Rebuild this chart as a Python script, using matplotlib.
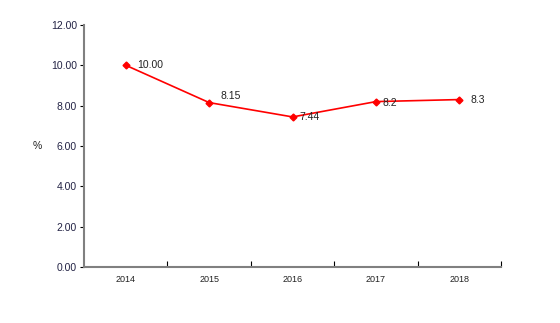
import matplotlib.pyplot as plt
import numpy as np

plt.rcParams["font.family"] = ["Liberation Sans", "DejaVu Sans"]

years = ["2014", "2015", "2016", "2017", "2018"]
values = [10.00, 8.15, 7.44, 8.2, 8.3]
value_labels = ["10.00", "8.15", "7.44", "8.2", "8.3"]
yticks = [0, 2, 4, 6, 8, 10, 12]

# label offsets in points (dx, dy)
offsets = [(8, 0), (8, 5), (5, 0), (5, -1), (8, 0)]

fig = plt.figure(figsize=(5.6, 3.23), dpi=100)
ax = fig.add_axes([0.15, 0.173, 0.745, 0.75])

x = np.arange(len(years))
ax.plot(x, values, color="#ff0000", lw=1.2, marker="D", ms=3.5,
        markerfacecolor="#ff0000", markeredgecolor="#ff0000")

for xi, v, lab, (dx, dy) in zip(x, values, value_labels, offsets):
    ax.annotate(lab, (xi, v), xytext=(dx, dy), textcoords="offset points",
                ha="left", va="center", fontsize=7.5, color="#222222")

ax.set_xlim(-0.5, len(years) - 0.5)
ax.set_ylim(0, 12)
ax.set_yticks(yticks)
ax.set_yticklabels([f"{t:.2f}" for t in yticks])
ax.set_xticks(x)
ax.set_xticklabels(years)
ax.set_xticks(np.arange(len(years)) + 0.5, minor=True)

for side in ("top", "right"):
    ax.spines[side].set_visible(False)
for side in ("left", "bottom"):
    ax.spines[side].set_color("#808080")
    ax.spines[side].set_linewidth(1.5)

ax.tick_params(axis="y", direction="out", length=3, width=0.8,
               labelsize=7.5, labelcolor="#222244", pad=2)
ax.tick_params(axis="x", which="major", length=0, labelsize=6.5,
               labelcolor="#222222", pad=6)
ax.tick_params(axis="x", which="minor", direction="in", length=4, width=0.8)

ax.set_ylabel("%", rotation=0, fontsize=7.5, color="#222222", va="center")
ax.yaxis.set_label_coords(-0.113, 0.5)

fig.savefig("out.png", dpi=100)
